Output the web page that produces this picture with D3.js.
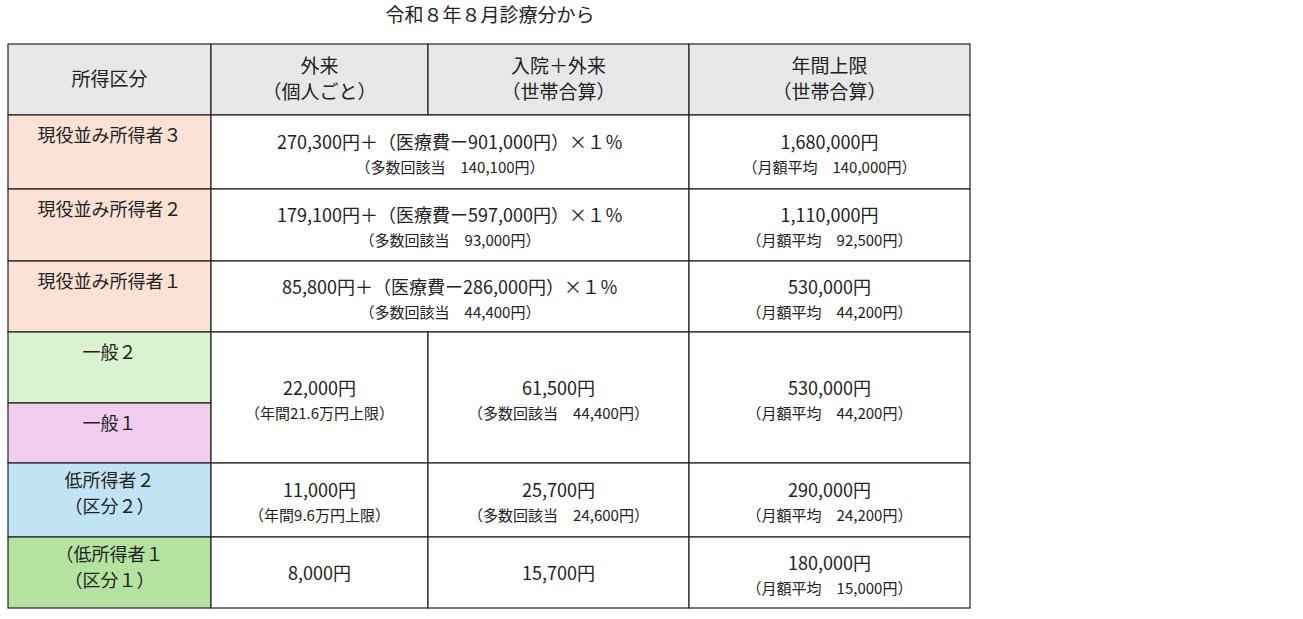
<!DOCTYPE html>
<html><head><meta charset="utf-8">
<script src="https://cdn.jsdelivr.net/npm/d3@7"></script>
<style>body{margin:0;background:#fff}svg{font-family:"Noto Sans CJK JP","Noto Sans",sans-serif}</style>
</head><body><svg id="c" width="1303" height="619"></svg>
<script>
const title = '令和８年８月診療分から'
const headers = [['所得区分'], ['外来', '（個人ごと）'], ['入院＋外来', '（世帯合算）'], ['年間上限', '（世帯合算）']]
const categories = ['現役並み所得者３', '現役並み所得者２', '現役並み所得者１', '一般２', '一般１', '低所得者２\n（区分２）', '（低所得者１\n（区分１）']
const catColors = ['#fbe2d5', '#fbe2d5', '#fbe2d5', '#d9f2d0', '#f1cdee', '#c0e4f4', '#b4e3a0']
const outpatient = ['270,300円＋（医療費ー901,000円）×１％|（多数回該当　140,100円）', '179,100円＋（医療費ー597,000円）×１％|（多数回該当　93,000円）', '85,800円＋（医療費ー286,000円）×１％|（多数回該当　44,400円）', '22,000円|（年間21.6万円上限）', null, '11,000円|（年間9.6万円上限）', '8,000円']
const household = [null, null, null, '61,500円|（多数回該当　44,400円）', null, '25,700円|（多数回該当　24,600円）', '15,700円']
const annual = ['1,680,000円|（月額平均　140,000円）', '1,110,000円|（月額平均　92,500円）', '530,000円|（月額平均　44,200円）', '530,000円|（月額平均　44,200円）', null, '290,000円|（月額平均　24,200円）', '180,000円|（月額平均　15,000円）']
const colEdges = [0, 203, 420, 681, 962]
const rowHeights = [71, 74, 72, 71, 71, 60, 74, 71]

const svg = d3.select('#c')
const x0 = 8, y0 = 44
const x = d3.scaleLinear().domain([0, 962]).range([x0, x0 + 962])
const cum = d3.cumsum([0].concat(rowHeights))
const y = i => y0 + cum[i]

svg.append('text').attr('x', 490).attr('y', 22).attr('text-anchor', 'middle')
  .attr('font-size', 19).attr('fill', '#222').text(title)

function cell(x1, x2, r1, r2, fill) {
  svg.append('rect').attr('x', x(x1)).attr('y', y(r1)).attr('width', x(x2) - x(x1)).attr('height', y(r2) - y(r1))
    .attr('fill', fill).attr('stroke', '#222').attr('stroke-width', 1.2)
}
function lines(cx, cy, arr, sizes) {
  arr.forEach((t, i) => svg.append('text').attr('x', cx).attr('y', cy + i * 26)
    .attr('text-anchor', 'middle').attr('font-size', sizes[i] || 15).attr('fill', '#222').text(t))
}

// header
headers.forEach((h, i) => {
  cell(colEdges[i], colEdges[i + 1], 0, 1, '#e8e8e8')
  const cx = (x(colEdges[i]) + x(colEdges[i + 1])) / 2
  lines(cx, h.length === 1 ? y(0) + 42 : y(0) + 29, h, [19, 19])
})

categories.forEach((c, k) => {
  const r = k + 1
  cell(colEdges[0], colEdges[1], r, r + 1, catColors[k])
  const parts = c.split('\n')
  const cx = (x(colEdges[0]) + x(colEdges[1])) / 2
  const top = k <= 4 ? y(r) + 27 : y(r) + 24
  lines(cx, top, parts, [18, 18])
})

function valueCell(txt, c1, c2, r1, r2) {
  cell(colEdges[c1], colEdges[c2], r1, r2, '#fff')
  if (!txt) return
  const parts = txt.split('|')
  const cx = (x(colEdges[c1]) + x(colEdges[c2])) / 2
  const mid = (y(r1) + y(r2)) / 2
  if (parts.length === 1) lines(cx, mid + 7, parts, [18])
  else {
    svg.append('text').attr('x', cx).attr('y', mid - 3).attr('text-anchor', 'middle').attr('font-size', 18).attr('fill', '#222').text(parts[0])
    svg.append('text').attr('x', cx).attr('y', mid + 21).attr('text-anchor', 'middle').attr('font-size', 15).attr('fill', '#222').text(parts[1])
  }
}

categories.forEach((c, k) => {
  const r = k + 1
  if (k === 4) return
  const span = k === 3 ? 2 : 1
  if (household[k] === null && k < 3) {
    valueCell(outpatient[k], 1, 3, r, r + 1)
  } else {
    valueCell(outpatient[k], 1, 2, r, r + span)
    valueCell(household[k], 2, 3, r, r + span)
  }
  valueCell(annual[k], 3, 4, r, r + span)
})
</script></body></html>
